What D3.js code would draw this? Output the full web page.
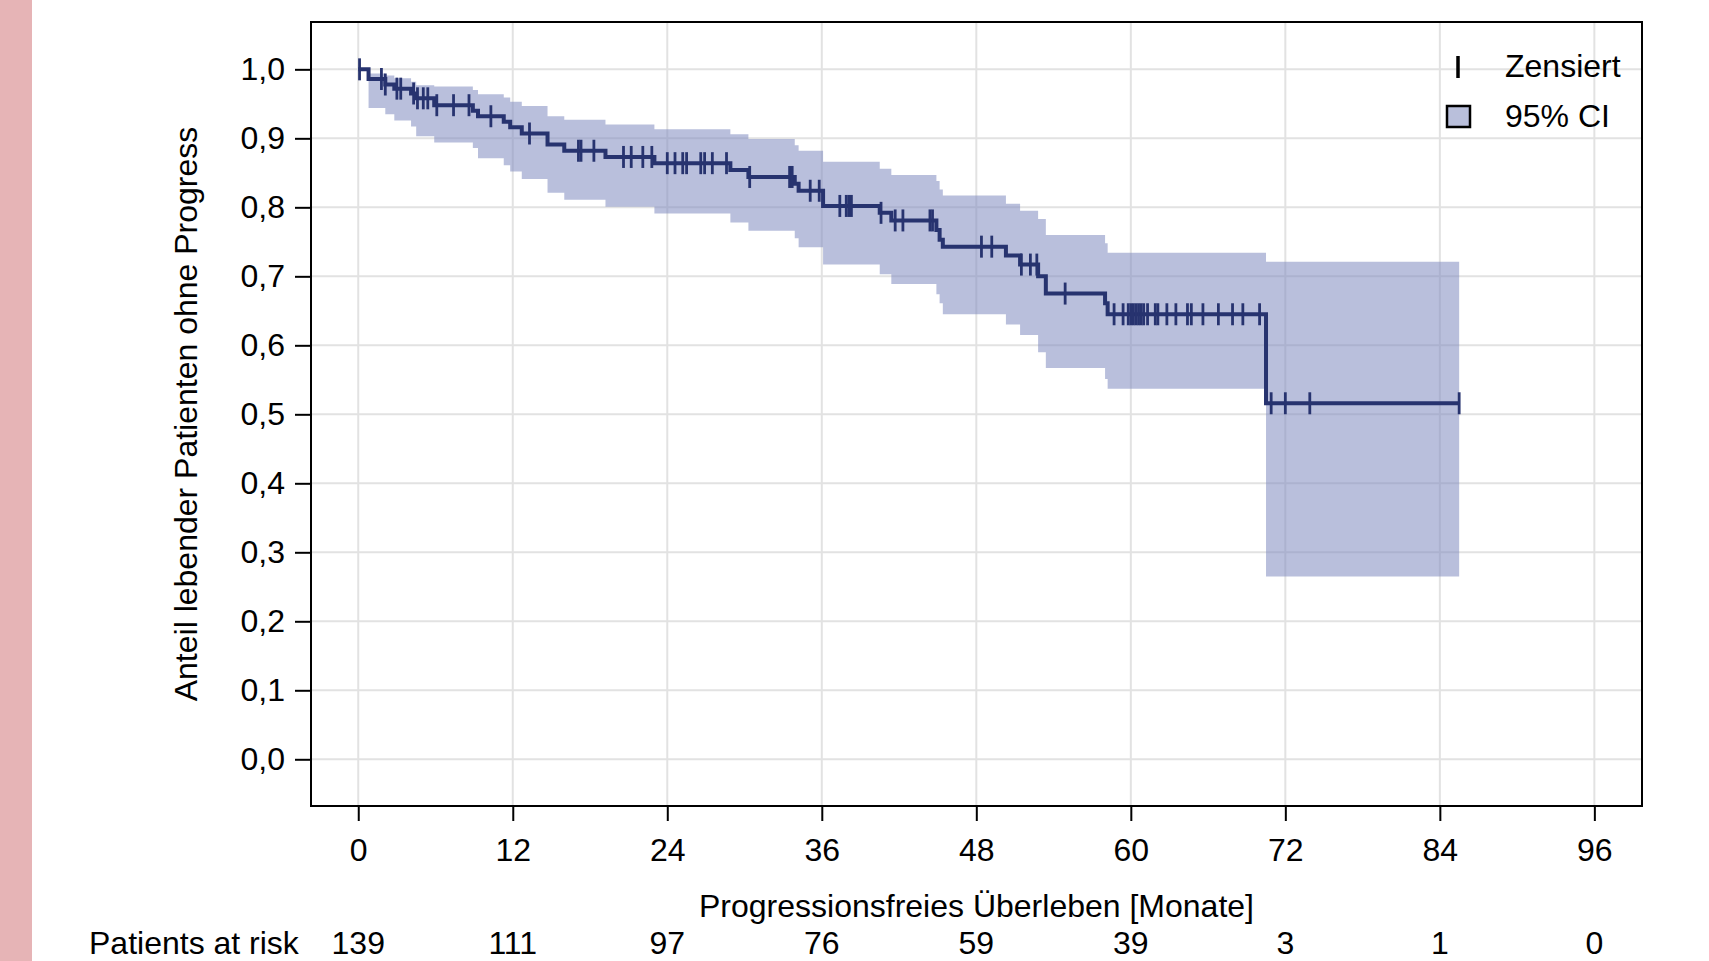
<!DOCTYPE html>
<html>
<head>
<meta charset="utf-8">
<script src="https://cdn.jsdelivr.net/npm/d3@7"></script>
<style>
  html, body { margin: 0; padding: 0; background: #fff; }
  svg text { font-family: "Liberation Sans", Arial, sans-serif; fill: #000; }
</style>
</head>
<body>
<div id="chart"></div>
<script>
// Kaplan-Meier steps (months, survival, 95% CI)
const kmTime  = [0, 0.8, 2.1, 2.8, 4.1, 4.5, 5.9, 8.9, 9.3, 11.3, 11.8, 12.7, 14.7, 16.0, 19.2, 23.0, 28.9, 30.3, 33.9, 34.2, 36.1, 40.5, 41.4, 44.9, 45.15, 45.4, 50.3, 51.4, 52.8, 53.4, 58.0, 58.2, 70.5];
const kmSurv  = [1.000, 0.986, 0.978, 0.972, 0.965, 0.958, 0.948, 0.940, 0.932, 0.924, 0.916, 0.907, 0.891, 0.882, 0.873, 0.864, 0.854, 0.844, 0.834, 0.824, 0.802, 0.792, 0.781, 0.767, 0.753, 0.743, 0.730, 0.717, 0.700, 0.675, 0.661, 0.645, 0.516];
const ciLower = [1.000, 0.944, 0.935, 0.926, 0.917, 0.903, 0.894, 0.886, 0.871, 0.861, 0.852, 0.841, 0.821, 0.811, 0.801, 0.791, 0.778, 0.766, 0.755, 0.742, 0.717, 0.703, 0.689, 0.674, 0.661, 0.645, 0.630, 0.615, 0.590, 0.567, 0.551, 0.537, 0.265];
const ciUpper = [1.000, 0.994, 0.991, 0.987, 0.982, 0.977, 0.975, 0.970, 0.964, 0.959, 0.953, 0.947, 0.932, 0.927, 0.920, 0.913, 0.906, 0.899, 0.890, 0.882, 0.866, 0.856, 0.847, 0.838, 0.826, 0.817, 0.805, 0.795, 0.783, 0.760, 0.748, 0.734, 0.721];
const lastTime = 85.5;

// censored observations (months)
const censorTimes = [0.1, 1.8, 2.1, 3.0, 3.3, 4.3, 4.6, 5.05, 5.4, 6.1, 7.4, 8.6, 10.3, 13.3, 17.1, 17.3, 18.3,
  20.6, 21.2, 22.1, 22.8, 24.0, 24.6, 25.2, 25.5, 26.6, 26.9, 27.5, 28.6, 30.4, 33.5, 33.7, 35.1, 35.8,
  37.4, 37.9, 38.1, 38.3, 40.6, 41.7, 42.3, 44.4, 44.6, 48.4, 49.2, 51.5, 52.2, 52.7, 54.9,
  58.7, 59.4, 59.8, 60.0, 60.2, 60.4, 60.6, 60.8, 61.0, 61.3, 61.9, 62.1, 62.8, 63.5, 64.4, 64.7,
  65.6, 66.8, 67.9, 68.7, 70.0, 70.9, 72.0, 73.9, 85.5];

// x axis ticks and patients at risk
const xTicks = [0, 12, 24, 36, 48, 60, 72, 84, 96];
const atRisk = [139, 111, 97, 76, 59, 39, 3, 1, 0];
const yTicks = [0, 0.1, 0.2, 0.3, 0.4, 0.5, 0.6, 0.7, 0.8, 0.9, 1.0];

/** CONSTANTS */
const width = 1709;
const height = 961;
const plot = { left: 311, right: 1642, top: 22, bottom: 806 };
const lineColor = "#27336f";
const fontSize = 32;

const de = d3.formatLocale({ decimal: ",", thousands: ".", grouping: [3], currency: ["", "€"] });
const fmtY = de.format(".1f");

/** SCALES */
const xScale = d3.scaleLinear()
  .domain([-3.67, 99.7])
  .range([plot.left, plot.right]);

const yScale = d3.scaleLinear()
  .domain([-0.0677, 1.0686])
  .range([plot.bottom, plot.top]);

// step table
const steps = kmTime.map((t, i) => ({ t, s: kmSurv[i], lo: ciLower[i], hi: ciUpper[i] }));
steps.push({ t: lastTime, s: kmSurv[kmSurv.length - 1], lo: ciLower[ciLower.length - 1], hi: ciUpper[ciUpper.length - 1] });
const bisect = d3.bisector(d => d.t).right;
const survAt = t => steps[Math.max(0, bisect(steps, t) - 1)].s;

/** DRAWING ELEMENTS */
const svg = d3.select("#chart")
  .append("svg")
  .attr("width", width)
  .attr("height", height);

// pink strip at the left edge
svg.append("rect")
  .attr("x", 0).attr("y", 0)
  .attr("width", 32).attr("height", height)
  .attr("fill", "#e6b4b6");

// grid
svg.append("g")
  .selectAll("line.vgrid")
  .data(xTicks)
  .join("line")
  .attr("class", "vgrid")
  .attr("x1", d => xScale(d)).attr("x2", d => xScale(d))
  .attr("y1", plot.top).attr("y2", plot.bottom)
  .attr("stroke", "#e2e2e2").attr("stroke-width", 2);

svg.append("g")
  .selectAll("line.hgrid")
  .data(yTicks)
  .join("line")
  .attr("class", "hgrid")
  .attr("x1", plot.left).attr("x2", plot.right)
  .attr("y1", d => yScale(d)).attr("y2", d => yScale(d))
  .attr("stroke", "#e2e2e2").attr("stroke-width", 2);

// confidence band
const band = d3.area()
  .curve(d3.curveStepAfter)
  .x(d => xScale(d.t))
  .y0(d => yScale(d.lo))
  .y1(d => yScale(d.hi));

svg.append("path")
  .datum(steps)
  .attr("d", band)
  .attr("fill", "#7f8bbf")
  .attr("fill-opacity", 0.55);

// survival curve
const line = d3.line()
  .curve(d3.curveStepAfter)
  .x(d => xScale(d.t))
  .y(d => yScale(d.s));

svg.append("path")
  .datum(steps)
  .attr("d", line)
  .attr("fill", "none")
  .attr("stroke", lineColor)
  .attr("stroke-width", 4);

// censor marks
svg.append("g")
  .selectAll("line.censor")
  .data(censorTimes)
  .join("line")
  .attr("class", "censor")
  .attr("x1", d => xScale(d)).attr("x2", d => xScale(d))
  .attr("y1", d => yScale(survAt(d)) - 11)
  .attr("y2", d => yScale(survAt(d)) + 11)
  .attr("stroke", lineColor)
  .attr("stroke-width", 2.8);

// axes
const yAxis = d3.axisLeft(yScale)
  .tickValues(yTicks)
  .tickFormat(fmtY)
  .tickSizeInner(16)
  .tickSizeOuter(0)
  .tickPadding(10);

const gy = svg.append("g")
  .attr("transform", `translate(${plot.left},0)`)
  .call(yAxis);

const xAxis = d3.axisBottom(xScale)
  .tickValues(xTicks)
  .tickFormat(d3.format("d"))
  .tickSizeInner(15)
  .tickSizeOuter(0)
  .tickPadding(17);

const gx = svg.append("g")
  .attr("transform", `translate(0,${plot.bottom})`)
  .call(xAxis);

[gx, gy].forEach(g => {
  g.select(".domain").remove();
  g.selectAll(".tick line").attr("stroke", "#000").attr("stroke-width", 2);
  g.selectAll(".tick text")
    .style("font-family", '"Liberation Sans", Arial, sans-serif')
    .style("font-size", fontSize + "px")
    .attr("fill", "#000");
});

// frame
svg.append("rect")
  .attr("x", plot.left).attr("y", plot.top)
  .attr("width", plot.right - plot.left)
  .attr("height", plot.bottom - plot.top)
  .attr("fill", "none")
  .attr("stroke", "#000")
  .attr("stroke-width", 2);

// axis titles
svg.append("text")
  .attr("transform", `translate(197,${(plot.top + plot.bottom) / 2}) rotate(-90)`)
  .attr("text-anchor", "middle")
  .style("font-size", fontSize + "px")
  .text("Anteil lebender Patienten ohne Progress");

svg.append("text")
  .attr("x", (plot.left + plot.right) / 2)
  .attr("y", 917)
  .attr("text-anchor", "middle")
  .style("font-size", fontSize + "px")
  .text("Progressionsfreies Überleben [Monate]");

// patients at risk row
svg.append("text")
  .attr("x", 89)
  .attr("y", 954)
  .style("font-size", fontSize + "px")
  .text("Patients at risk");

svg.selectAll("text.risk")
  .data(atRisk)
  .join("text")
  .attr("class", "risk")
  .attr("x", (d, i) => xScale(xTicks[i]))
  .attr("y", 954)
  .attr("text-anchor", "middle")
  .style("font-size", fontSize + "px")
  .text(d => d);

// legend
const legend = svg.append("g");
legend.append("line")
  .attr("x1", 1458).attr("x2", 1458)
  .attr("y1", 56).attr("y2", 78)
  .attr("stroke", "#000").attr("stroke-width", 3.5);
legend.append("text")
  .attr("x", 1505).attr("y", 77)
  .style("font-size", fontSize + "px")
  .text("Zensiert");
legend.append("rect")
  .attr("x", 1447).attr("y", 106)
  .attr("width", 23).attr("height", 21)
  .attr("fill", "#b9bfdb")
  .attr("stroke", "#000").attr("stroke-width", 2.5);
legend.append("text")
  .attr("x", 1505).attr("y", 127)
  .style("font-size", fontSize + "px")
  .text("95% CI");
</script>
</body>
</html>
